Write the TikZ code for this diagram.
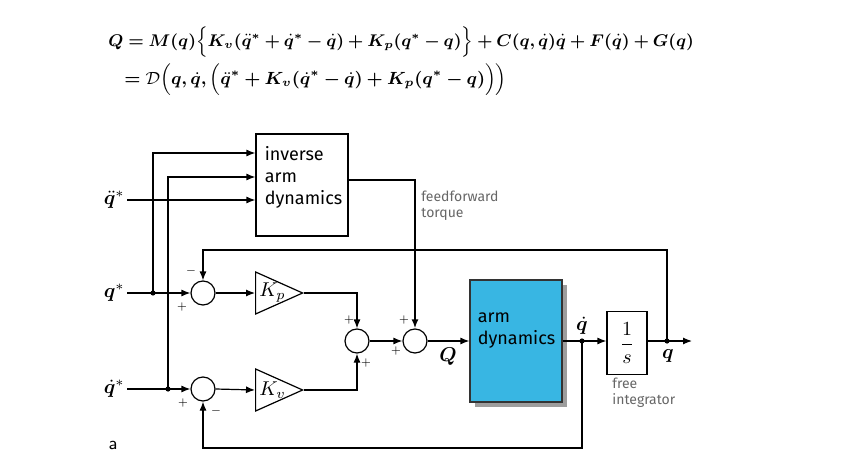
\documentclass[tikz,border=0pt]{standalone}
\usepackage{amsmath}
\usepackage{bm}
\usepackage{graphicx}
\usepackage{fontspec}
\newfontfamily\handfont{Fira Sans}
\usetikzlibrary{shapes.geometric,shadows,arrows.meta,positioning}
\definecolor{armblue}{RGB}{56,182,227}
\newcommand{\eqlineA}{$\bm{Q = M(q)\Big\{K_v(\ddot{q}^* + \dot{q}^* - \dot{q}) + K_p(q^* - q)\Big\} + C(q,\dot{q})\dot{q} + F(\dot{q}) + G(q)}$}
\newcommand{\eqlineB}{$\bm{=} \mathcal{D}\bm{\Big(q,\dot{q},\Big(\ddot{q}^* + K_v(\dot{q}^* - \dot{q}) + K_p(q^* - q)\Big)\Big)}$}

\begin{document}
\begin{tikzpicture}[x=0.5pt,y=-0.5pt,
	sumnode/.style={circle,draw,line width=0.6pt,minimum size=12pt,inner sep=0pt},
	gain/.style={isosceles triangle,draw,line width=0.6pt,anchor=west,
		isosceles triangle stretches,minimum width=21pt,minimum height=23.5pt,inner sep=0pt},
	blockbox/.style={draw,line width=0.6pt,inner sep=0pt},
	handtext/.style={font=\handfont\small,align=left,anchor=north west,inner sep=0pt},
	eqtext/.style={anchor=west,inner sep=0pt,font=\small},
	sig/.style={line width=0.6pt,-{Latex[length=4.5pt,width=3.5pt]}},
	pm/.style={font=\tiny,inner sep=0pt},
	note/.style={font=\handfont\scriptsize,text=black!60,align=left,anchor=north west,inner sep=0pt},
	dot/.style={circle,fill,inner sep=0pt,minimum size=2.6pt}]
	\useasboundingbox (0,0) rectangle (846,476);

	% equation
	\node[eqtext] (eqa) at (108,42) {\scalebox{0.94}{\eqlineA}};
	\node[eqtext] (eqb) at (124,80) {\scalebox{0.98}{\eqlineB}};

	% blocks
	\node[blockbox,minimum width=46pt,minimum height=51pt] (inv) at (302,185) {};
	\node[handtext] (invtext) at ([xshift=4.5pt,yshift=-6.5pt]inv.north west) {inverse\\arm\\dynamics};
	\node[blockbox,fill=armblue,draw=black!80,minimum width=46pt,minimum height=61pt,
		drop shadow={shadow xshift=2.5pt,shadow yshift=-2.5pt,opacity=.55,fill=black!70}] (arm) at (516,341) {};
	\node[handtext] (armtext) at ([xshift=4pt,yshift=-16.5pt]arm.north west) {arm\\dynamics};
	\node[blockbox,minimum width=20pt,minimum height=31.5pt] (int) at (627,343) {$\dfrac{1}{s}$};

	\node[sumnode] (sp) at (203,293) {};
	\node[sumnode] (sv) at (203,389) {};
	\node[sumnode] (sa) at (357,341) {};
	\node[sumnode] (sq) at (415,341) {};
	\node[gain] (kp) at (255,293) {};
	\node[gain] (kv) at (255,390) {};
	\node[anchor=west,inner sep=0pt] (kplab) at ([xshift=2pt]kp.west) {$K_p$};
	\node[anchor=west,inner sep=0pt] (kvlab) at ([xshift=2pt]kv.west) {$K_v$};

	% inputs
	\node[anchor=east,inner sep=1pt] (qdd) at (127,200) {$\ddot{\bm q}^*$};
	\node[anchor=east,inner sep=1pt] (qs) at (127,293) {$\bm q^*$};
	\node[anchor=east,inner sep=1pt] (qds) at (127,389) {$\dot{\bm q}^*$};
	\node[dot] (jp) at (153,293) {};
	\node[dot] (jv) at (168,389) {};
	\node[dot] (jd) at (582,341) {};
	\node[dot] (jq) at (667,341) {};
	\coordinate (out) at (692,341);
	\coordinate (fbtop) at (667,250);
	\coordinate (fbbot) at (582,448);

	% connectors
	\draw[sig] (qdd.east) -- ([yshift=-7.5pt]inv.west);
	\draw[sig] (jp.center) |- ([yshift=16pt]inv.west);
	\draw[sig] (jv.center) |- ([yshift=4pt]inv.west);
	\draw[sig] (qs.east) -- (sp.west);
	\draw[sig] (qds.east) -- (sv.west);
	\draw[sig] (sp.east) -- (kp.west);
	\draw[sig] (sv.east) -- (kv.west);
	\draw[sig] (kp.apex) -| (sa.north);
	\draw[sig] (kv.apex) -| (sa.south);
	\draw[sig] (sa.east) -- (sq.west);
	\draw[sig,line width=1.3pt] ([yshift=2.5pt]inv.east) -| (sq.north);
	\draw[sig] (sq.east) -- (arm.west);
	\draw[sig] (arm.east) -- (int.west |- jd);
	\draw[sig] (int.east |- jq) -- (out);
	\draw[sig] (jq.center) -- (fbtop) -| (sp.north);
	\draw[sig] (jd.center) -- (fbbot) -| (sv.south);

	% signal labels
	\node (lq) at (448,357) {$\bm Q$};
	\node (lqd) at (582,326) {$\dot{\bm q}$};
	\node (lqo) at (668,356) {$\bm q$};

	% signs
	\node[pm] at (191,271) {$-$};
	\node[pm] at (182,307) {$+$};
	\node[pm] at (183,403) {$+$};
	\node[pm] at (216,411) {$-$};
	\node[pm] at (349,320) {$+$};
	\node[pm] at (366,363) {$+$};
	\node[pm] at (404,320) {$+$};
	\node[pm] at (396,351) {$+$};

	% notes
	\node[note] (ff) at (421,191) {feedforward\\torque};
	\node[note] (fi) at (612,378) {free\\integrator};
	\node[font=\sffamily\small] (tag) at (113,445) {a};
\end{tikzpicture}
\end{document}
